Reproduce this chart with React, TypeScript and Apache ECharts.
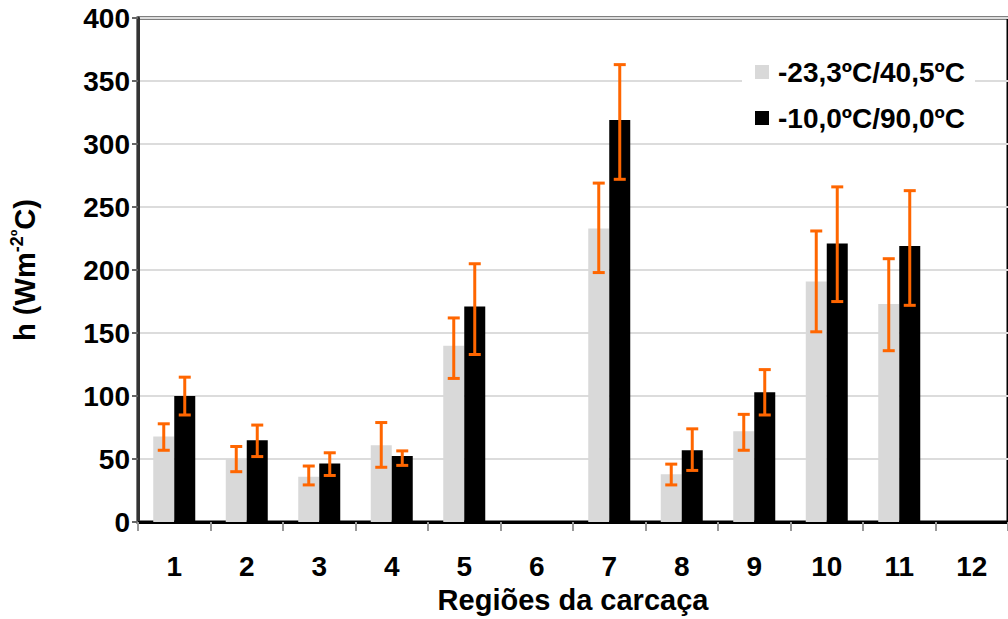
import React, { useEffect, useRef } from "react";
import * as echarts from "echarts";

const categories = ["1", "2", "3", "4", "5", "6", "7", "8", "9", "10", "11", "12"];
const seriesNames = ["-23,3ºC/40,5ºC", "-10,0ºC/90,0ºC"];
const grayValues = [68, 50, 36, 61, 140, null, 233, 38, 72, 191, 173, null];
const grayLow = [57, 40, 29.5, 43.5, 114, null, 198, 29.5, 57, 151, 136, null];
const grayHigh = [78, 60, 44.5, 79, 162, null, 269, 46, 85.5, 231, 209, null];
const blackValues = [100, 65, 46.5, 52.5, 171, null, 319, 57, 103, 221, 219, null];
const blackLow = [85, 52, 37, 45, 133, null, 272, 41, 85, 175, 172, null];
const blackHigh = [115, 77, 55, 56.5, 205, null, 363, 74, 121, 266, 263, null];
const yTicks = { min: 0, max: 400, interval: 50 };

const BAR_W = 21;
const ORANGE = "#ff6600";
const FONT = "'Liberation Sans', Arial, sans-serif";

function errData(lo: (number | null)[], hi: (number | null)[]) {
  const out: any[] = [];
  lo.forEach((l, i) => {
    if (l != null && hi[i] != null) out.push([i, l, hi[i]]);
  });
  return out;
}

function makeRender(offset: number) {
  return (params: any, api: any) => {
    const i = api.value(0);
    const lo = api.coord([i, api.value(1)]);
    const hi = api.coord([i, api.value(2)]);
    const x = lo[0] + offset;
    const style = { stroke: ORANGE, lineWidth: 3 };
    return {
      type: "group",
      children: [
        { type: "line", shape: { x1: x, y1: hi[1], x2: x, y2: lo[1] }, style },
        { type: "line", shape: { x1: x - 6, y1: hi[1], x2: x + 6, y2: hi[1] }, style },
        { type: "line", shape: { x1: x - 6, y1: lo[1], x2: x + 6, y2: lo[1] }, style },
      ],
    };
  };
}

export default function App() {
  const ref = useRef<HTMLDivElement>(null);
  useEffect(() => {
    document.body.style.margin = "0";
    const chart = echarts.init(ref.current!, undefined, { renderer: "svg" });
    chart.setOption({
      animation: false,
      backgroundColor: "#ffffff",
      textStyle: { fontFamily: FONT },
      grid: {
        left: 137,
        right: -9,
        top: 18,
        bottom: 95,
        show: true,
        borderColor: "#000",
        borderWidth: 3,
      },
      legend: {
        orient: "vertical",
        left: 742,
        top: 48,
        data: seriesNames,
        icon: "rect",
        itemWidth: 14,
        itemHeight: 14,
        itemGap: 18,
        backgroundColor: "#ffffff",
        padding: [10, 10, 10, 13],
        textStyle: {
          fontSize: 28,
          fontWeight: "bold",
          color: "#000",
          fontFamily: FONT,
          padding: [0, 0, 0, 4],
        },
      },
      xAxis: {
        type: "category",
        data: categories,
        name: "Regiões da carcaça",
        nameLocation: "middle",
        nameGap: 62,
        nameTextStyle: { fontSize: 29, fontWeight: "bold", color: "#000" },
        axisLine: { lineStyle: { color: "#000", width: 3 } },
        axisTick: { show: true, length: 9, lineStyle: { color: "#999", width: 2 } },
        axisLabel: { fontSize: 28, fontWeight: "bold", color: "#000", margin: 30 },
      },
      yAxis: {
        type: "value",
        min: yTicks.min,
        max: yTicks.max,
        interval: yTicks.interval,
        name: "{a|h (Wm}{b|-2º}{a|C)}",
        nameLocation: "middle",
        nameRotate: 90,
        nameGap: 97,
        nameTextStyle: {
          rich: {
            a: { fontSize: 29, fontWeight: "bold", color: "#000", fontFamily: FONT },
            b: { fontSize: 18, fontWeight: "bold", color: "#000", fontFamily: FONT, padding: [0, 0, 15, 0] },
          },
        },
        axisLine: { show: true, lineStyle: { color: "#333", width: 3 } },
        axisTick: { show: true, length: 6, lineStyle: { color: "#666", width: 2 } },
        axisLabel: { fontSize: 28, fontWeight: "bold", color: "#000", margin: 8 },
        splitLine: { lineStyle: { color: "#dcdcdc", width: 2 } },
      },
      series: [
        {
          name: seriesNames[0],
          type: "bar",
          data: grayValues,
          barWidth: BAR_W,
          barGap: "0%",
          itemStyle: { color: "#d9d9d9" },
        },
        {
          name: seriesNames[1],
          type: "bar",
          data: blackValues,
          barWidth: BAR_W,
          barGap: "0%",
          itemStyle: { color: "#000000" },
        },
        {
          type: "custom",
          name: "err1",
          data: errData(grayLow, grayHigh),
          renderItem: makeRender(-BAR_W / 2),
          z: 5,
        },
        {
          type: "custom",
          name: "err2",
          data: errData(blackLow, blackHigh),
          renderItem: makeRender(BAR_W / 2),
          z: 5,
        },
      ],
    });
    return () => chart.dispose();
  }, []);
  return <div ref={ref} style={{ width: 1008, height: 619 }} />;
}
